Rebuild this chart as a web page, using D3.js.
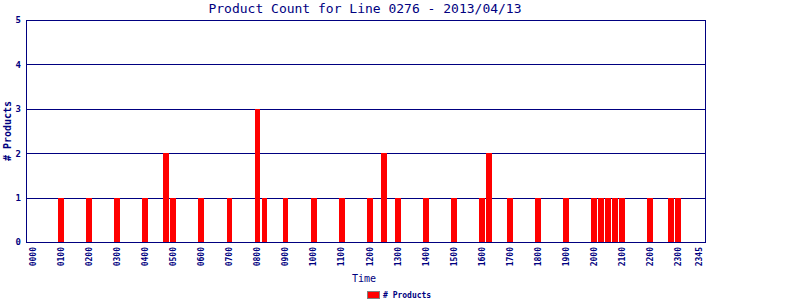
<!DOCTYPE html>
<html>
<head>
<meta charset="utf-8">
<script src="https://cdn.jsdelivr.net/npm/d3@7"></script>
<style>
  body { margin: 0; background: #fff; }
  text { font-family: "DejaVu Sans Mono", monospace; fill: #000080; }
</style>
</head>
<body>
<svg id="chart" width="800" height="300"></svg>
<script>
// counts per 15-minute slot (only non-empty slots listed)
var times = ["0100","0200","0300","0400","0445","0500","0600","0700","0800","0815",
             "0900","1000","1100","1200","1230","1300","1400","1500","1600","1615",
             "1700","1800","1900","2000","2015","2030","2045","2100","2200","2245","2300"];
var counts = [1,1,1,1,2,1,1,1,3,1,
              1,1,1,1,2,1,1,1,1,2,
              1,1,1,1,1,1,1,1,1,1,1];
var tickLabels = ["0000","0100","0200","0300","0400","0500","0600","0700","0800","0900",
                  "1000","1100","1200","1300","1400","1500","1600","1700","1800","1900",
                  "2000","2100","2200","2300","2345"];
var yTicks = [0,1,2,3,4,5];

var navy = "#000080";
var plot = { left: 26, right: 705, top: 20, bottom: 242 };

var slots = [];
d3.range(24).forEach(function(h) {
  d3.range(0, 60, 15).forEach(function(m) {
    slots.push(d3.format("02")(h) + d3.format("02")(m));
  });
});

var x = d3.scaleBand()
    .domain(slots)
    .range([30.2, 702.2])
    .paddingInner(0.17);

var y = d3.scaleLinear()
    .domain([0, 5])
    .range([plot.bottom, plot.top]);

var svg = d3.select("#chart");

// gridlines
svg.append("g")
  .selectAll("line").data(yTicks.slice(1, -1))
  .enter().append("line")
    .attr("x1", plot.left).attr("x2", plot.right)
    .attr("y1", function(d) { return Math.round(y(d)) + 0.5; })
    .attr("y2", function(d) { return Math.round(y(d)) + 0.5; })
    .attr("stroke", navy)
    .attr("shape-rendering", "crispEdges");

// bars
var data = times.map(function(t, i) { return { t: t, v: counts[i] }; });
svg.append("g")
  .selectAll("rect").data(data)
  .enter().append("rect")
    .attr("x", function(d) { return x(d.t); })
    .attr("width", x.bandwidth())
    .attr("y", function(d) { return y(d.v); })
    .attr("height", function(d) { return y(0) - y(d.v); })
    .attr("fill", "#ff0000")
    .attr("shape-rendering", "crispEdges");

// frame
svg.append("rect")
  .attr("x", plot.left + 0.5).attr("y", plot.top + 0.5)
  .attr("width", plot.right - plot.left).attr("height", plot.bottom - plot.top)
  .attr("fill", "none").attr("stroke", navy)
  .attr("shape-rendering", "crispEdges");

// y axis
var yAxis = svg.append("g")
  .attr("transform", "translate(" + plot.left + ",0)")
  .call(d3.axisLeft(y).tickValues(yTicks).tickSize(0).tickPadding(5).tickFormat(d3.format("d")));
yAxis.select(".domain").remove();
yAxis.selectAll("text")
  .style("font-size", "9px").style("font-weight", "bold")
  .attr("fill", navy);

// x axis
var xAxis = svg.append("g")
  .attr("transform", "translate(0," + plot.bottom + ")")
  .call(d3.axisBottom(x).tickValues(tickLabels).tickSize(0));
xAxis.select(".domain").remove();
xAxis.selectAll("text")
  .attr("fill", navy)
  .style("font-size", "8px").style("font-weight", "bold")
  .attr("text-anchor", "end")
  .attr("transform", "translate(0,5) rotate(-90)")
  .attr("x", 0).attr("y", 0).attr("dy", "0.35em");

// title
svg.append("text")
  .attr("x", 365).attr("y", 13)
  .attr("text-anchor", "middle")
  .style("font-size", "13px")
  .text("Product Count for Line 0276 - 2013/04/13");

// axis titles
svg.append("text")
  .attr("transform", "translate(11,131) rotate(-90)")
  .attr("text-anchor", "middle")
  .style("font-size", "10px").style("font-weight", "bold")
  .text("# Products");

svg.append("text")
  .attr("x", 364).attr("y", 282)
  .attr("text-anchor", "middle")
  .style("font-size", "10px")
  .text("Time");

// legend
svg.append("rect")
  .attr("x", 367.5).attr("y", 291.5).attr("width", 12).attr("height", 7)
  .attr("fill", "#ff0000").attr("stroke", "#808080")
  .attr("shape-rendering", "crispEdges");
svg.append("text")
  .attr("x", 383).attr("y", 298)
  .style("font-size", "8px").style("font-weight", "bold")
  .text("# Products");
</script>
</body>
</html>
